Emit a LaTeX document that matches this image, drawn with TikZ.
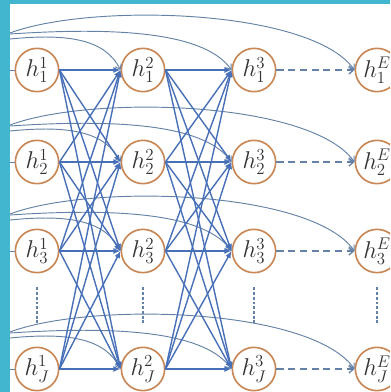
\documentclass[tikz,border=0pt]{standalone}
\usepackage{amsmath, amssymb}
\usepackage{tikz}
\usetikzlibrary{arrows.meta, calc}

\definecolor{bordteal}{RGB}{66,182,206}
\definecolor{linkblue}{RGB}{72,112,184}
\definecolor{skipblue}{RGB}{100,130,168}
\definecolor{ringorange}{RGB}{200,135,85}
\definecolor{inkgray}{RGB}{50,50,55}

\tikzset{
  neuron/.style={circle, draw=ringorange, line width=1.4pt, fill=white,
    minimum size=1.3cm, inner sep=0pt, font=\huge, text=inkgray},
  link/.style={draw=linkblue, line width=1.2pt, -{Latex[length=6pt,width=5pt]}},
  skip/.style={draw=skipblue, line width=0.8pt, -{Straight Barb[length=4pt,width=6pt]}},
  dashlink/.style={draw=skipblue, line width=1.1pt, dash pattern=on 6pt off 4pt,
    -{Straight Barb[length=4pt,width=7pt]}},
  vdots/.style={draw=skipblue, line width=1.4pt, dash pattern=on 2.5pt off 1.5pt},
}

\begin{document}
\begin{tikzpicture}[x=0.03cm, y=-0.03cm]
    \clip (0,0) rectangle (390,392);

    % --- Neurones (colonnes 1, 2, 3, E) ---
    \foreach \c/\x/\l in {1/37/1, 2/143/2, 3/254/3, 4/377/E}
      \foreach \r/\y/\s in {1/70/1, 2/162/2, 3/251/3, 4/369/J}
        \node[neuron] (h\c\r) at (\x,\y) {$h_{\s}^{\l}$};

    % --- Entrees venant du bord gauche ---
    \foreach \r/\y in {1/70, 2/162, 3/251, 4/369} {
      \coordinate (in\r) at (10,\y);
      \coordinate (sa\r) at (10,\y-31);
      \coordinate (sb\r) at (10,\y-36);
      \coordinate (sc\r) at (10,\y-37);
      \draw[skipblue, line width=0.8pt] (in\r) -- (h1\r.west);
      \draw[skip] (sa\r) .. controls +(60,-6) and +(-15,-30) .. (h2\r.west);
      \draw[skip] (sb\r) .. controls +(120,-8) and +(-25,-35) .. (h3\r.west);
      \draw[skip] (sc\r) .. controls +(80,-30) and +(-45,-62) .. (h4\r.west);
    }

    % --- Liaisons completes entre couches ---
    \foreach \i in {1,...,4}
      \foreach \j in {1,...,4} {
        \draw[link] (h1\i.east) -- (h2\j.west);
        \draw[link] (h2\i.east) -- (h3\j.west);
      }

    % --- Couche 3 vers couche E (pointilles) ---
    \foreach \r in {1,...,4}
      \draw[dashlink] (h3\r.east) -- (h4\r.west);

    % --- Points de suspension verticaux ---
    \foreach \c in {1,...,4}
      \draw[vdots] ($(h\c3.south)+(0,14)$) -- ($(h\c4.north)+(0,-24)$);

    % --- Bandeau du cadre ---
    \fill[bordteal] (0,0) rectangle (10,392);
    \fill[bordteal] (0,0) rectangle (390,4);
\end{tikzpicture}
\end{document}
